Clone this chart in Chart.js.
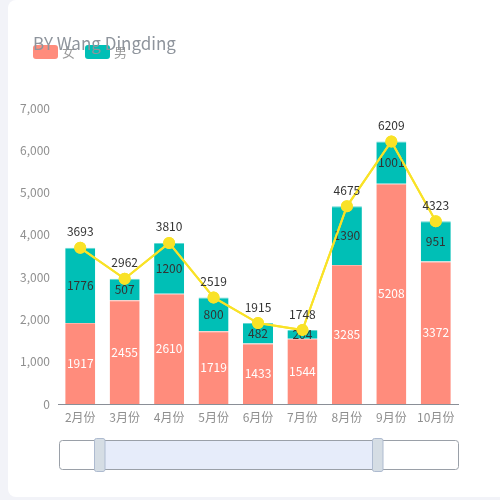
<!DOCTYPE html>
<html>
<head>
<meta charset="utf-8">
<script src="https://cdn.jsdelivr.net/npm/chart.js@4/dist/chart.umd.min.js"></script>
<style>
  html, body { margin: 0; padding: 0; width: 500px; height: 500px; overflow: hidden; background: #f2f3f8; }
  #card { position: absolute; left: 8px; top: 0; width: 510px; height: 497px; background: #fff; border-radius: 8px; }
  #wrap { position: absolute; left: 0; top: 0; width: 500px; height: 500px; }
</style>
</head>
<body>
<div id="card"></div>
<div id="wrap"><canvas id="c" width="500" height="500"></canvas></div>
<script>
const categories = ['2月份', '3月份', '4月份', '5月份', '6月份', '7月份', '8月份', '9月份', '10月份'];
const female = [1917, 2455, 2610, 1719, 1433, 1544, 3285, 5208, 3372];
const male = [1776, 507, 1200, 800, 482, 204, 1390, 1001, 951];
const totals = [3693, 2962, 3810, 2519, 1915, 1748, 4675, 6209, 4323];
const seriesNames = ['女', '男'];
const titleText = 'BY Wang Dingding';

const FONT = "'Microsoft YaHei', 'Noto Sans CJK SC', sans-serif";
const COL_F = '#ff8c7c';
const COL_M = '#00bfb6';
const COL_L = '#f9e227';

const decoPlugin = {
  id: 'deco',
  afterDatasetsDraw(chart) {
    const ctx = chart.ctx;
    ctx.save();
    ctx.textAlign = 'center';
    ctx.textBaseline = 'middle';
    ctx.font = '12px ' + FONT;
    const mf = chart.getDatasetMeta(0), mm = chart.getDatasetMeta(1), ml = chart.getDatasetMeta(2);
    mf.data.forEach((el, i) => {
      const p = el.getProps(['x', 'y', 'base'], true);
      ctx.fillStyle = '#ffffff';
      ctx.fillText(String(female[i]), p.x, (p.y + p.base) / 2);
    });
    mm.data.forEach((el, i) => {
      const p = el.getProps(['x', 'y', 'base'], true);
      ctx.fillStyle = '#333333';
      ctx.fillText(String(male[i]), p.x, (p.y + p.base) / 2);
    });
    ml.controller.draw();
    ml.data.forEach((el, i) => {
      ctx.fillStyle = '#333333';
      ctx.fillText(String(totals[i]), el.x, el.y - 16);
    });
    ctx.restore();
  },
  afterDraw(chart) {
    const ctx = chart.ctx;
    ctx.save();
    ctx.textAlign = 'left';
    ctx.textBaseline = 'middle';
    const items = [{c: COL_F, x: 33}, {c: COL_M, x: 85}];
    items.forEach((it, k) => {
      ctx.fillStyle = it.c;
      ctx.beginPath();
      ctx.roundRect(it.x, 45, 25, 14, 3);
      ctx.fill();
      ctx.fillStyle = '#9a9a9a';
      ctx.font = '13px ' + FONT;
      ctx.fillText(seriesNames[k], it.x + 29, 52);
    });
    ctx.font = '17px ' + FONT;
    ctx.fillStyle = '#8e949c';
    ctx.fillText(titleText, 33, 44);
    // data zoom slider
    ctx.strokeStyle = '#9aa0a8';
    ctx.lineWidth = 1;
    ctx.fillStyle = '#e6ecfa';
    ctx.fillRect(105, 441, 267, 28);
    ctx.beginPath();
    ctx.roundRect(59.5, 440.5, 399, 29, 3);
    ctx.stroke();
    [94.5, 372.5].forEach(x => {
      ctx.fillStyle = '#d5dde4';
      ctx.strokeStyle = '#aebbd0';
      ctx.beginPath();
      ctx.roundRect(x, 438.5, 10.5, 33, 2);
      ctx.fill();
      ctx.stroke();
    });
    ctx.restore();
  }
};

new Chart(document.getElementById('c'), {
  data: {
    labels: categories,
    datasets: [
      { type: 'bar', label: seriesNames[0], data: female, backgroundColor: COL_F, stack: 'g',
        borderColor: '#ffb2a7', borderWidth: {top: 1, left: 0, right: 0, bottom: 0}, borderSkipped: false, order: 2 },
      { type: 'bar', label: seriesNames[1], data: male, backgroundColor: COL_M, stack: 'g',
        borderColor: '#63d8d1', borderWidth: {top: 1, left: 0, right: 0, bottom: 0}, borderSkipped: false, order: 2 },
      { type: 'line', label: '合计', data: totals, stack: 't', borderColor: COL_L, backgroundColor: COL_L,
        borderWidth: 2, pointRadius: 5, pointBackgroundColor: COL_L, pointBorderColor: COL_L, tension: 0, order: 1 }
    ]
  },
  options: {
    responsive: false,
    animation: false,
    devicePixelRatio: 1,
    layout: { padding: { top: 108, right: 42, left: 0, bottom: 0 } },
    plugins: { legend: { display: false }, title: { display: false }, tooltip: { enabled: false } },
    datasets: { bar: { categoryPercentage: 1, barPercentage: 0.675 } },
    scales: {
      x: {
        stacked: true,
        grid: { display: false, drawTicks: false },
        border: { display: true, color: '#8a8f97', width: 1 },
        ticks: { color: '#8f8f8f', font: { family: FONT, size: 12 }, padding: 6, maxRotation: 0, autoSkip: false },
        afterFit(s) { s.height = 96; }
      },
      y: {
        stacked: true,
        min: 0, max: 7000,
        grid: { display: false, drawTicks: false },
        border: { display: false },
        ticks: { stepSize: 1000, color: '#8f8f8f', font: { family: FONT, size: 12 }, padding: 8,
          callback: v => v.toLocaleString('en-US') },
        afterFit(s) { s.width = 58; }
      }
    }
  },
  plugins: [decoPlugin]
});
</script>
</body>
</html>
